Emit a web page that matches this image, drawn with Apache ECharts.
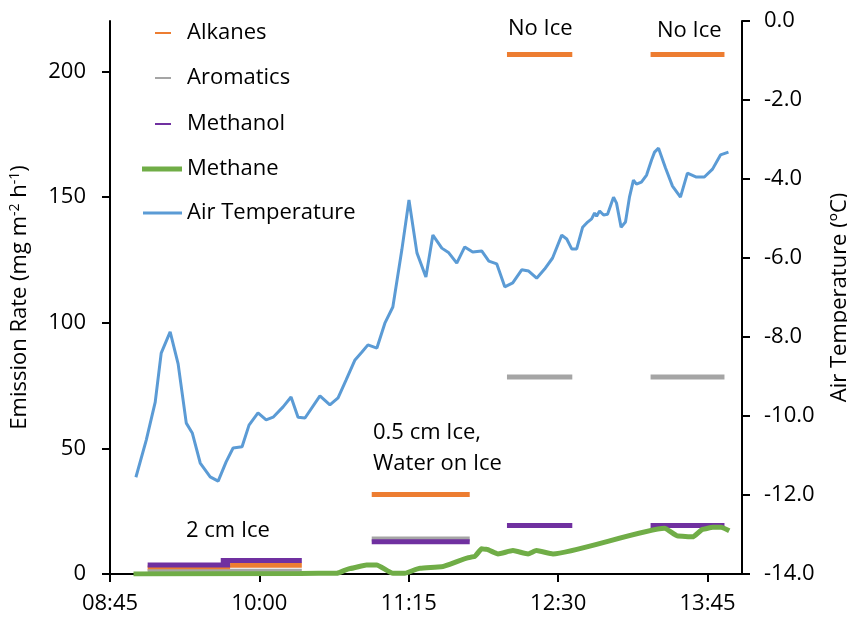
<!DOCTYPE html>
<html>
<head>
<meta charset="utf-8">
<script src="https://cdn.jsdelivr.net/npm/echarts@6/dist/echarts.min.js"></script>
<style>html,body{margin:0;padding:0;background:#fff;}#chart{width:847px;height:619px;}</style>
</head>
<body>
<div id="chart"></div>
<script>
// Time values are minutes after 08:45
const startClock = [8, 45];

// Sampling periods (start, end in minutes after 08:45)
const alkanesStart = [18.9, 60.3, 131.4, 199.3, 271.4];
const alkanesEnd   = [60.3, 96.3, 180.6, 232.1, 308.5];
const alkanesValue = [2.4, 3.5, 31.6, 206.7, 206.7];

const aromaticsStart = [18.9, 60.3, 131.4, 199.3, 271.4];
const aromaticsEnd   = [60.3, 96.3, 180.6, 232.1, 308.5];
const aromaticsValue = [0.9, 1.1, 13.9, 78.4, 78.4];

const methanolStart = [18.9, 55.6, 131.4, 199.3, 271.4];
const methanolEnd   = [60.3, 96.3, 180.6, 232.1, 308.5];
const methanolValue = [3.6, 5.4, 12.8, 19.3, 19.3];

const methaneTime  = [11.8, 95.4, 113.8, 120.5, 128.8, 133.9, 142.0, 148.0, 155.6, 166.4, 180.6, 183.1, 186.5, 189.0, 194.8, 202.3, 209.9, 214.1, 222.4, 278.4, 285.1, 292.6, 297.6, 302.6, 306.8, 310.9];
const methaneValue = [0, 0.2, 0.3, 2.2, 3.6, 3.6, 0.3, 0.3, 2.3, 2.9, 6.6, 7.0, 10.0, 9.8, 8.0, 9.3, 8.0, 9.3, 8.0, 18.2, 15.1, 14.8, 17.8, 18.6, 18.6, 17.2];

const tempTime = [13.0, 18.2, 22.7, 25.7, 30.2, 34.2, 38.3, 41.3, 45.3, 50.3, 54.3, 58.3, 61.8, 66.3, 69.8, 74.3, 78.4, 81.9, 86.9, 90.9, 94.4, 97.9, 105.4, 110.4, 114.5, 118.5, 123.0, 126.5, 129.5, 134.0, 138.0, 142.0, 146.5, 150.1, 154.1, 158.6, 162.1, 166.6, 170.1, 174.1, 178.1, 182.1, 186.6, 190.2, 194.2, 198.2, 202.2, 206.7, 210.2, 214.2, 218.2, 222.2, 226.8, 229.3, 231.8, 234.3, 237.3, 239.8, 241.8, 243.3, 244.3, 245.8, 247.8, 249.8, 252.8, 254.3, 256.6, 258.8, 260.8, 262.8, 264.3, 266.8, 269.4, 271.9, 273.4, 275.4, 278.9, 282.4, 286.4, 289.9, 294.4, 298.4, 302.5, 306.5, 310.5];
const tempValue = [-11.55, -10.61, -9.65, -8.41, -7.87, -8.68, -10.18, -10.43, -11.19, -11.54, -11.65, -11.16, -10.81, -10.78, -10.23, -9.92, -10.10, -10.03, -9.77, -9.52, -10.03, -10.05, -9.49, -9.72, -9.54, -9.09, -8.58, -8.38, -8.20, -8.28, -7.65, -7.24, -5.80, -4.53, -5.87, -6.48, -5.42, -5.75, -5.87, -6.13, -5.72, -5.85, -5.82, -6.08, -6.15, -6.73, -6.63, -6.30, -6.33, -6.51, -6.28, -6.00, -5.42, -5.52, -5.77, -5.77, -5.22, -5.09, -5.01, -4.86, -4.94, -4.81, -4.91, -4.89, -4.46, -4.61, -5.22, -5.09, -4.46, -4.03, -4.13, -4.08, -3.90, -3.52, -3.32, -3.22, -3.72, -4.18, -4.46, -3.85, -3.95, -3.95, -3.75, -3.39, -3.32];

const leftTicks = [0, 50, 100, 150, 200];
const annotations = [
  {text: 'No Ice', x: 508, y: 33},
  {text: 'No Ice', x: 657, y: 35},
  {text: '0.5 cm Ice,', x: 373, y: 437},
  {text: 'Water on Ice', x: 373, y: 468},
  {text: '2 cm Ice', x: 186, y: 535}
];

function segments(starts, ends, vals) {
  const d = [];
  for (let i = 0; i < starts.length; i++) {
    d.push([starts[i], vals[i]]);
    d.push([ends[i], vals[i]]);
    if (i < starts.length - 1) d.push([(ends[i] + starts[i + 1]) / 2, null]);
  }
  return d;
}
function pairs(xs, ys) { return xs.map((x, i) => [x, ys[i]]); }
function clock(v) {
  const m = startClock[0] * 60 + startClock[1] + Math.round(v);
  const h = Math.floor(m / 60), mm = m % 60;
  return String(h).padStart(2, '0') + ':' + String(mm).padStart(2, '0');
}

const FONT = 'Open Sans';
const FS = 22;
const chart = echarts.init(document.getElementById('chart'));

const legendBase = (name, left, top, w, h, pad) => ({
  data: [name], left: left, top: top, orient: 'vertical', padding: 0,
  itemWidth: w, itemHeight: h, icon: 'rect', selectedMode: false,
  textStyle: {fontFamily: FONT, fontSize: FS, color: '#000', padding: [0, 0, 0, pad]}
});

chart.setOption({
  animation: false,
  backgroundColor: '#fff',
  grid: {left: 110, right: 105, top: 21, bottom: 45, containLabel: false, outerBoundsMode: 'none'},
  legend: [
    legendBase('Alkanes', 155, 22, 16, 2, 11),
    legendBase('Aromatics', 155, 67, 16, 2, 11),
    legendBase('Methanol', 155, 113, 16, 2, 11),
    legendBase('Methane', 142, 158, 40, 5, 0),
    legendBase('Air Temperature', 143, 202, 39, 3, 0)
  ],
  xAxis: {
    type: 'value', min: 0, max: 317.3, interval: 75,
    axisLine: {lineStyle: {color: '#000', width: 2}},
    axisTick: {show: true, length: 8, lineStyle: {color: '#000', width: 2}},
    axisLabel: {formatter: clock, showMaxLabel: false, fontFamily: FONT, fontSize: FS, color: '#000', margin: 19},
    splitLine: {show: false}
  },
  yAxis: [
    {
      type: 'value', min: 0, max: 220, interval: 50, position: 'left',
      name: 'Emission Rate (mg m{sup|-2} h{sup|-1})',
      nameLocation: 'middle', nameRotate: 90, nameGap: 78,
      nameTextStyle: {fontFamily: FONT, fontSize: FS, color: '#000',
        rich: {sup: {fontFamily: FONT, fontSize: 14, color: '#000', verticalAlign: 'top', padding: [0, 0, 10, 0]}}},
      axisLine: {show: true, lineStyle: {color: '#000', width: 2}},
      axisTick: {show: true, length: 8, customValues: leftTicks, lineStyle: {color: '#000', width: 2}},
      axisLabel: {customValues: leftTicks, fontFamily: FONT, fontSize: FS, color: '#000', margin: 24},
      splitLine: {show: false}
    },
    {
      type: 'value', min: -14, max: 0, interval: 2, position: 'right',
      name: 'Air Temperature (ºC)',
      nameLocation: 'middle', nameRotate: 90, nameGap: 87,
      nameTextStyle: {fontFamily: FONT, fontSize: FS, color: '#000'},
      axisLine: {show: true, lineStyle: {color: '#000', width: 2}},
      axisTick: {show: true, length: 8, lineStyle: {color: '#000', width: 2}},
      axisLabel: {formatter: v => v.toFixed(1), fontFamily: FONT, fontSize: FS, color: '#000', margin: 22},
      splitLine: {show: false}
    }
  ],
  graphic: annotations.map(a => ({
    type: 'text', left: a.x, top: a.y - 15,
    style: {text: a.text, fontFamily: FONT, fontSize: FS, fill: '#000'}
  })),
  series: [
    {name: 'Alkanes', type: 'line', yAxisIndex: 0, data: segments(alkanesStart, alkanesEnd, alkanesValue),
     showSymbol: false, connectNulls: false, color: '#ED7D31', lineStyle: {width: 5, color: '#ED7D31', cap: 'butt'}},
    {name: 'Aromatics', type: 'line', yAxisIndex: 0, data: segments(aromaticsStart, aromaticsEnd, aromaticsValue),
     showSymbol: false, connectNulls: false, color: '#A5A5A5', lineStyle: {width: 5, color: '#A5A5A5', cap: 'butt'}},
    {name: 'Methanol', type: 'line', yAxisIndex: 0, data: segments(methanolStart, methanolEnd, methanolValue),
     showSymbol: false, connectNulls: false, color: '#7030A0', lineStyle: {width: 5, color: '#7030A0', cap: 'butt'}},
    {name: 'Methane', type: 'line', yAxisIndex: 0, data: pairs(methaneTime, methaneValue),
     showSymbol: false, smooth: 0.15, smoothMonotone: 'x', color: '#70AD47', lineStyle: {width: 5, color: '#70AD47'}},
    {name: 'Air Temperature', type: 'line', yAxisIndex: 1, data: pairs(tempTime, tempValue),
     showSymbol: false, color: '#5B9BD5', lineStyle: {width: 3, color: '#5B9BD5'}}
  ]
});
</script>
</body>
</html>
